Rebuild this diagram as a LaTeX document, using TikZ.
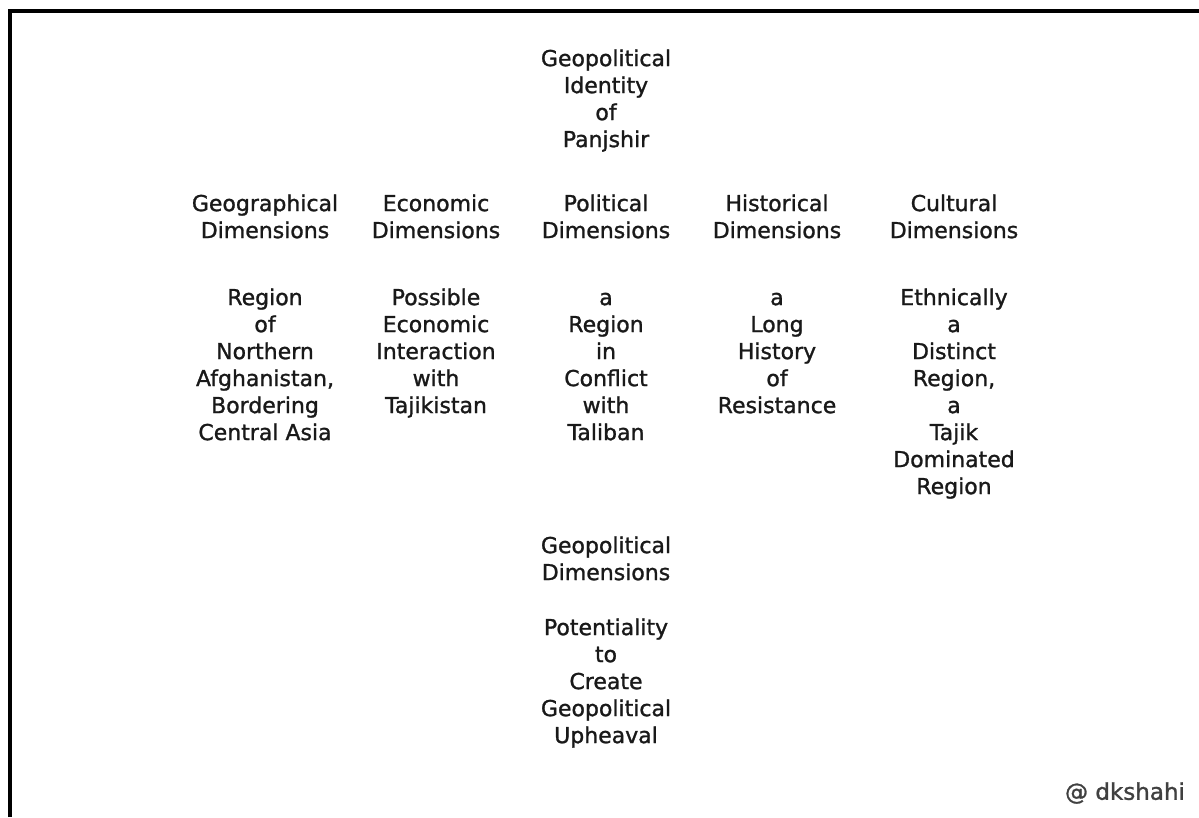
\documentclass[tikz,border=0pt]{standalone}
\usepackage{fontspec}
\setmainfont{DejaVu Sans}
\newfontfamily\semib[FakeBold=1.2]{DejaVu Sans}
\begin{document}
\begin{tikzpicture}[x=1pt,y=-1pt,
  txt/.style={anchor=north,inner sep=0pt,align=center,text=black!90,
    font=\semib\fontsize{22}{27}\selectfont},
  wmark/.style={anchor=center,inner sep=0pt,text=black!75,
    font=\semib\fontsize{23}{27}\selectfont}]
\useasboundingbox (0,0) rectangle (1199,817);
\fill[white] (0,0) rectangle (1199,817);
\draw[line width=4pt] (10,817) -- (10,11) -- (1199,11);
% title
\node[txt] (title) at (606,47) {\strut Geopolitical\\Identity\\of\\Panjshir};
% headings
\node[txt] (geoh) at (265,192) {\strut Geographical\\Dimensions};
\node[txt] (ecoh) at (436,192) {\strut Economic\\Dimensions};
\node[txt] (polh) at (606,192) {\strut Political\\Dimensions};
\node[txt] (hish) at (777,192) {\strut Historical\\Dimensions};
\node[txt] (culh) at (954,192) {\strut Cultural\\Dimensions};
% bodies
\node[txt] (geob) at (265,286) {\strut Region\\of\\Northern\\Afghanistan,\\Bordering\\Central Asia};
\node[txt] (ecob) at (436,286) {\strut Possible\\Economic\\Interaction\\with\\Tajikistan};
\node[txt] (polb) at (606,286) {\strut a\\Region\\in\\Conflict\\with\\Taliban};
\node[txt] (hisb) at (777,286) {\strut a\\Long\\History\\of\\Resistance};
\node[txt] (culb) at (954,286) {\strut Ethnically\\a\\Distinct\\Region,\\a\\Tajik\\Dominated\\Region};
% geopolitical
\node[txt] (gph) at (606,534) {\strut Geopolitical\\Dimensions};
\node[txt] (gpb) at (606,616) {\strut Potentiality\\to\\Create\\Geopolitical\\Upheaval};
% watermark
\node[wmark] (wm) at (1125,793) {@ dkshahi};
\end{tikzpicture}
\end{document}
